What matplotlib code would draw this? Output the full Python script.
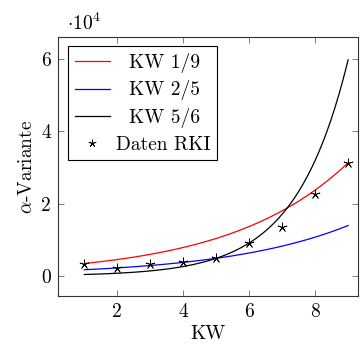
import matplotlib
matplotlib.use('Agg')
import matplotlib.pyplot as plt
import numpy as np

plt.rcParams['font.family'] = 'cmr10'
plt.rcParams['mathtext.fontset'] = 'cm'
plt.rcParams['axes.formatter.use_mathtext'] = True

# RKI data (alpha variant cases per calendar week)
weeks = [1, 2, 3, 4, 5, 6, 7, 8, 9]
cases = [3440, 2220, 3250, 3720, 4880, 9130, 13400, 22600, 31300]

# exponential fits, each through two calendar weeks
fit_labels = ['KW 1/9', 'KW 2/5', 'KW 5/6']
fit_weeks = [(1, 9), (2, 5), (5, 6)]
fit_colors = ['#ff0000', '#0000ff', '#000000']

xticks = [2, 4, 6, 8]
yticks = [0, 20000, 40000, 60000]
ytick_labels = ['0', '2', '4', '6']

FS = 14


def exp_through(w1, w2, x):
    c1 = cases[weeks.index(w1)]
    c2 = cases[weeks.index(w2)]
    b = np.log(c2 / c1) / (w2 - w1)
    return c1 * np.exp(b * (x - w1))


fig = plt.figure(figsize=(3.64, 3.45), dpi=100)
ax = fig.add_axes([58 / 364, 49 / 345, 300 / 364, 259 / 345])

x = np.linspace(weeks[0], weeks[-1], 200)
for lab, (w1, w2), col in zip(fit_labels, fit_weeks, fit_colors):
    # pad label so the legend text looks centred like pgfplots
    pad = '  ' if lab.startswith('KW') else ''
    ax.plot(x, exp_through(w1, w2, x), color=col, lw=0.9, label=pad + lab)

ax.plot(weeks, cases, linestyle='none', marker=(5, 2, 0), markersize=7,
        markeredgewidth=0.55, color='black', label='Daten RKI')

ax.set_xlim(0.2, 9.3)
ax.set_ylim(-5550, 66100)
ax.set_xticks(xticks)
ax.set_xticklabels([str(t) for t in xticks])
ax.set_yticks(yticks)
ax.set_yticklabels(ytick_labels)
ax.tick_params(direction='in', top=True, right=True, length=4.5, width=0.6,
               color='#666666', labelsize=FS, pad=5)
for s in ax.spines.values():
    s.set_linewidth(0.8)
    s.set_color('#333333')

ax.set_xlabel('KW', fontsize=FS, labelpad=3)
ax.set_ylabel(r'$\alpha$-Variante', fontsize=FS, labelpad=4)
ax.text(0.03, 1.027, r'$\cdot 10^4$', transform=ax.transAxes, fontsize=FS,
        va='baseline', ha='left')

leg = ax.legend(loc='upper left', bbox_to_anchor=(0.033, 0.965), borderaxespad=0,
                fontsize=FS, fancybox=False, framealpha=1, edgecolor='black',
                handlelength=1.8, handletextpad=0.3, labelspacing=0.39,
                borderpad=0.35, markerscale=0.8)
leg.get_frame().set_linewidth(0.8)

fig.savefig('out.png', dpi=100)
